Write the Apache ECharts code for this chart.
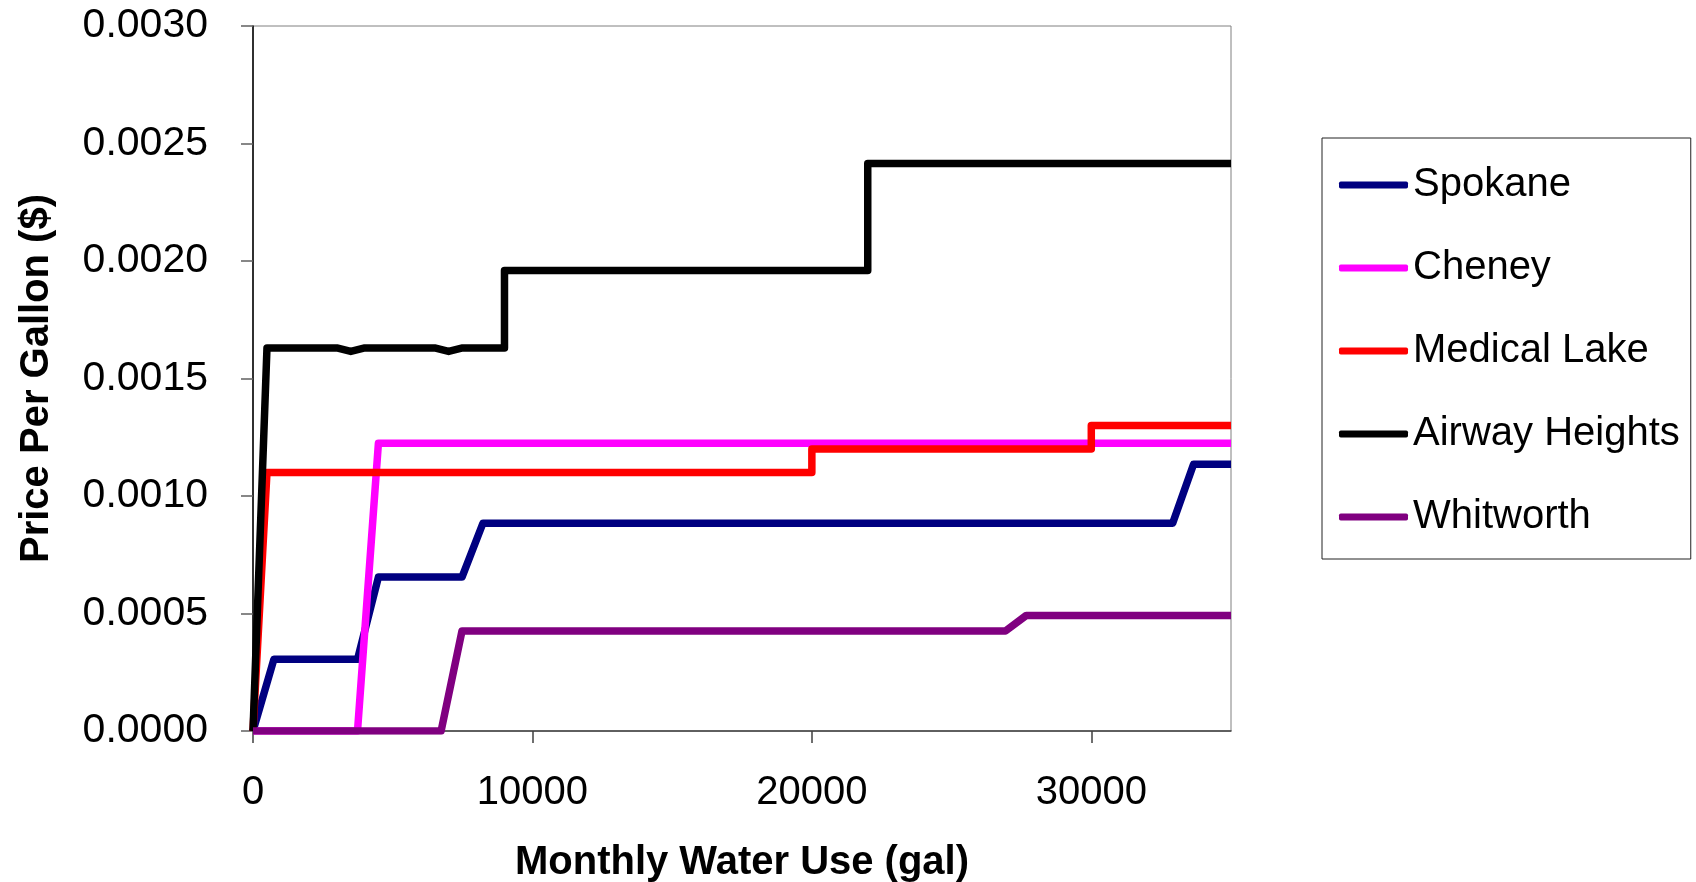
<!DOCTYPE html>
<html>
<head>
<meta charset="utf-8">
<title>Price Per Gallon vs Monthly Water Use</title>
<script src="https://cdn.jsdelivr.net/npm/echarts@6/dist/echarts.min.js"></script>
<style>
  html, body { margin: 0; padding: 0; background: #ffffff; }
  #chart { width: 1696px; height: 882px; }
</style>
</head>
<body>
<div id="chart"></div>
<script>
// Marginal price per gallon ($) by monthly water use (gallons), per utility.
const seriesNames = ['Spokane', 'Cheney', 'Medical Lake', 'Airway Heights', 'Whitworth'];
const seriesColors = ['#000080', '#FF00FF', '#FF0000', '#000000', '#800080'];

const spokane = [[0, 0], [748, 0.000305], [3740, 0.000305], [4488, 0.000655], [7480, 0.000655],
  [8228, 0.000884], [32912, 0.000884], [33660, 0.001135], [35000, 0.001135]];
const cheney = [[0, 0], [3740, 0], [4488, 0.001224], [35000, 0.001224]];
const medicalLake = [[0, 0], [500, 0.0011], [20000, 0.0011], [20000, 0.0012], [30000, 0.0012],
  [30000, 0.0013], [35000, 0.0013]];
const airwayHeights = [[0, 0], [500, 0.00163], [3000, 0.00163], [3500, 0.001615], [4000, 0.00163],
  [6500, 0.00163], [7000, 0.001615], [7500, 0.00163], [9000, 0.00163], [9000, 0.00196],
  [22000, 0.00196], [22000, 0.002415], [35000, 0.002415]];
const whitworth = [[0, 0], [6732, 0], [7480, 0.000426], [26928, 0.000426], [27676, 0.000492],
  [35000, 0.000492]];

const seriesData = [spokane, cheney, medicalLake, airwayHeights, whitworth];

const xTicks = [0, 10000, 20000, 30000];
const xTitle = 'Monthly Water Use (gal)';
const yTitle = 'Price Per Gallon ($)';

const FONT = "'Liberation Sans', Arial, Helvetica, sans-serif";

const chart = echarts.init(document.getElementById('chart'), null, { renderer: 'canvas' });

chart.setOption({
  animation: false,
  backgroundColor: '#ffffff',
  grid: {
    left: 253, top: 26, width: 978, height: 705,
    outerBoundsMode: 'none',
    containLabel: false,
    show: true, borderColor: '#808080', borderWidth: 1, backgroundColor: 'transparent'
  },
  legend: {
    orient: 'vertical',
    left: 1322, top: 138,
    padding: [27, 11, 22, 17],
    itemGap: 43,
    itemWidth: 69,
    itemHeight: 7,
    icon: 'roundRect',
    borderColor: '#222222',
    borderWidth: 1,
    backgroundColor: '#ffffff',
    textStyle: { fontFamily: FONT, fontSize: 40, lineHeight: 40, color: '#000000' },
    data: seriesNames
  },
  xAxis: {
    type: 'value',
    min: 0, max: 35000, interval: 10000,
    name: xTitle,
    nameLocation: 'middle',
    nameGap: 112,
    nameTextStyle: { fontFamily: FONT, fontSize: 40, fontWeight: 'bold', color: '#000000' },
    axisLine: { show: true, onZero: false, lineStyle: { color: '#404040', width: 1.5 } },
    axisTick: { show: true, length: 12, customValues: xTicks, lineStyle: { color: '#404040', width: 1.5 } },
    axisLabel: {
      customValues: xTicks, margin: 42, fontFamily: FONT, fontSize: 40, color: '#000000',
      formatter: v => String(v)
    },
    splitLine: { show: false }
  },
  yAxis: {
    type: 'value',
    min: 0, max: 0.003, interval: 0.0005,
    name: yTitle,
    nameLocation: 'middle',
    nameGap: 196,
    nameTextStyle: { fontFamily: FONT, fontSize: 40, fontWeight: 'bold', color: '#000000' },
    axisLine: { show: true, lineStyle: { color: '#000000', width: 1.5 } },
    axisTick: { show: true, length: 12, lineStyle: { color: '#606060', width: 1.5 } },
    axisLabel: {
      margin: 45, fontFamily: FONT, fontSize: 41, color: '#000000',
      formatter: v => v.toFixed(4)
    },
    splitLine: { show: false }
  },
  series: seriesNames.map((name, i) => ({
    name: name,
    type: 'line',
    data: seriesData[i],
    color: seriesColors[i],
    symbol: 'none',
    showSymbol: false,
    lineStyle: { width: 7.5, color: seriesColors[i], join: 'round' },
    emphasis: { disabled: true }
  }))
});
</script>
</body>
</html>
